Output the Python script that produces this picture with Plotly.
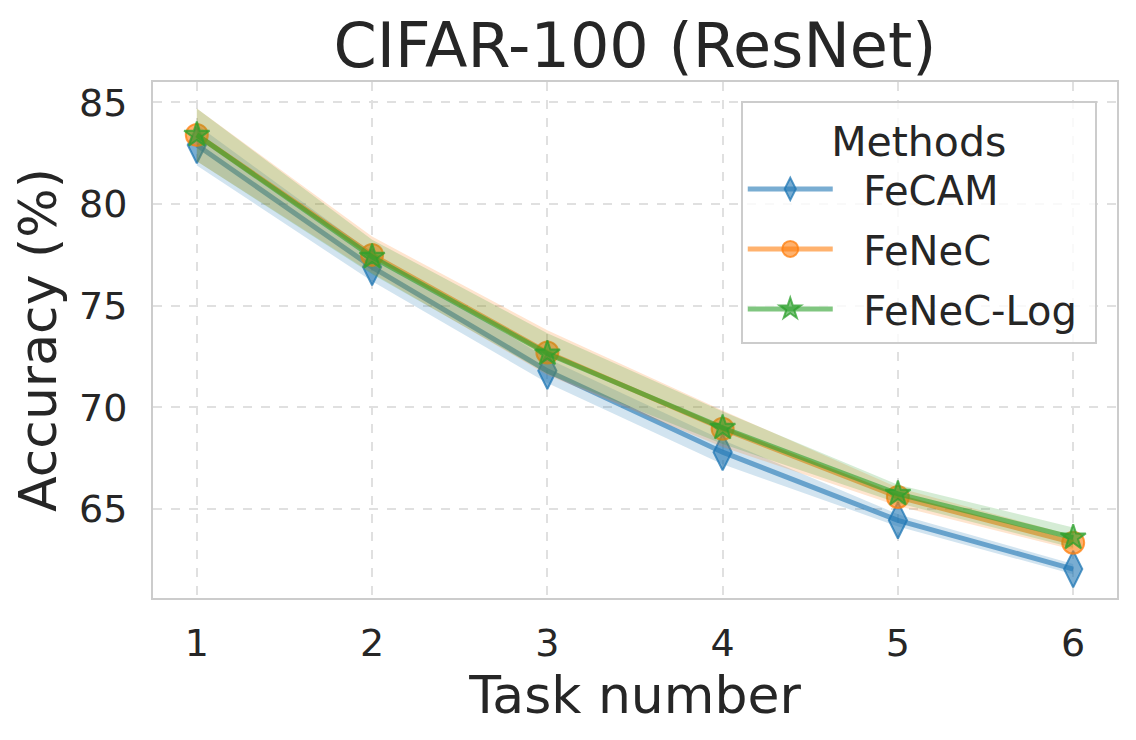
import plotly.graph_objects as go

tasks = [1, 2, 3, 4, 5, 6]
methods = ["FeCAM", "FeNeC", "FeNeC-Log"]

fecam_mean = [82.9, 76.9, 71.8, 67.8, 64.45, 62.05]
fecam_std = [1.0, 0.7, 0.6, 0.6, 0.3, 0.25]
fenec_mean = [83.4, 77.5, 72.7, 68.95, 65.6, 63.35]
fenec_std = [1.3, 0.9, 1.1, 0.9, 0.45, 0.35]
feneclog_mean = [83.4, 77.4, 72.65, 69.0, 65.75, 63.6]
feneclog_std = [1.3, 0.85, 1.0, 0.8, 0.45, 0.5]

y_ticks = [65, 70, 75, 80, 85]

FONT = "DejaVu Sans"
TEXT = "#262626"

styles = {
    "FeCAM": dict(rgb=(31, 119, 180), symbol="diamond-tall", size=26),
    "FeNeC": dict(rgb=(255, 127, 14), symbol="circle", size=22),
    "FeNeC-Log": dict(rgb=(44, 160, 44), symbol="star", size=19),
}

series = {
    "FeCAM": (fecam_mean, fecam_std),
    "FeNeC": (fenec_mean, fenec_std),
    "FeNeC-Log": (feneclog_mean, feneclog_std),
}

fig = go.Figure()

for name in methods:
    mean, std = series[name]
    r, g, b = styles[name]["rgb"]
    upper = [m + s for m, s in zip(mean, std)]
    lower = [m - s for m, s in zip(mean, std)]
    # shaded std band
    fig.add_trace(go.Scatter(
        x=tasks + tasks[::-1],
        y=upper + lower[::-1],
        mode="lines",
        fill="toself",
        fillcolor=f"rgba({r},{g},{b},0.2)",
        line=dict(width=0),
        hoverinfo="skip",
        showlegend=False,
        legendgroup=name,
    ))
    fig.add_trace(go.Scatter(
        x=tasks,
        y=mean,
        mode="lines+markers",
        name="\u00a0\u00a0" + name + "\u00a0",
        legendgroup=name,
        line=dict(color=f"rgba({r},{g},{b},0.6)", width=5),
        marker=dict(
            symbol=styles[name]["symbol"],
            size=styles[name]["size"],
            color=f"rgba({r},{g},{b},0.6)",
            line=dict(color=f"rgba({r},{g},{b},0.75)", width=2),
        ),
    ))

axis_common = dict(
    showline=True,
    linecolor="#cccccc",
    linewidth=2,
    mirror=True,
    showgrid=True,
    gridcolor="#e0e0e0",
    gridwidth=1.5,
    griddash="dash",
    zeroline=False,
    ticks="",
    automargin=False,
    tickfont=dict(family=FONT, size=38, color=TEXT),
)

fig.update_xaxes(
    **axis_common,
    range=[0.75, 6.25],
    tickvals=tasks,
    ticklabelstandoff=10,
    title=dict(text="Task number", font=dict(family=FONT, size=52, color=TEXT), standoff=6),
)
fig.update_yaxes(
    **axis_common,
    range=[60.63, 86.0],
    tickvals=y_ticks,
    ticklabelstandoff=16,
    title=dict(text="Accuracy (%)", font=dict(family=FONT, size=52, color=TEXT), standoff=8),
)

# page body adds an 8px margin, so the figure is 8px smaller than the window
fig.update_layout(
    width=1128,
    height=732,
    margin=dict(l=145, r=19, t=74, b=142),
    plot_bgcolor="white",
    paper_bgcolor="white",
    font=dict(family=FONT, color=TEXT),
    title=dict(
        text="CIFAR-100 (ResNet)",
        font=dict(family=FONT, size=62, color=TEXT),
        x=0.5, xref="paper", xanchor="center",
        y=0.9495, yref="container", yanchor="middle",
    ),
    legend=dict(
        title=dict(text="Methods", font=dict(family=FONT, size=41, color=TEXT), side="top center"),
        font=dict(family=FONT, size=40, color=TEXT),
        x=0.979, xanchor="right",
        y=0.963, yanchor="top",
        bgcolor="rgba(255,255,255,0.8)",
        bordercolor="#cccccc",
        borderwidth=2,
        itemwidth=85,
        traceorder="grouped",
        tracegroupgap=5,
    ),
    showlegend=True,
)

fig.write_html("out.html")
